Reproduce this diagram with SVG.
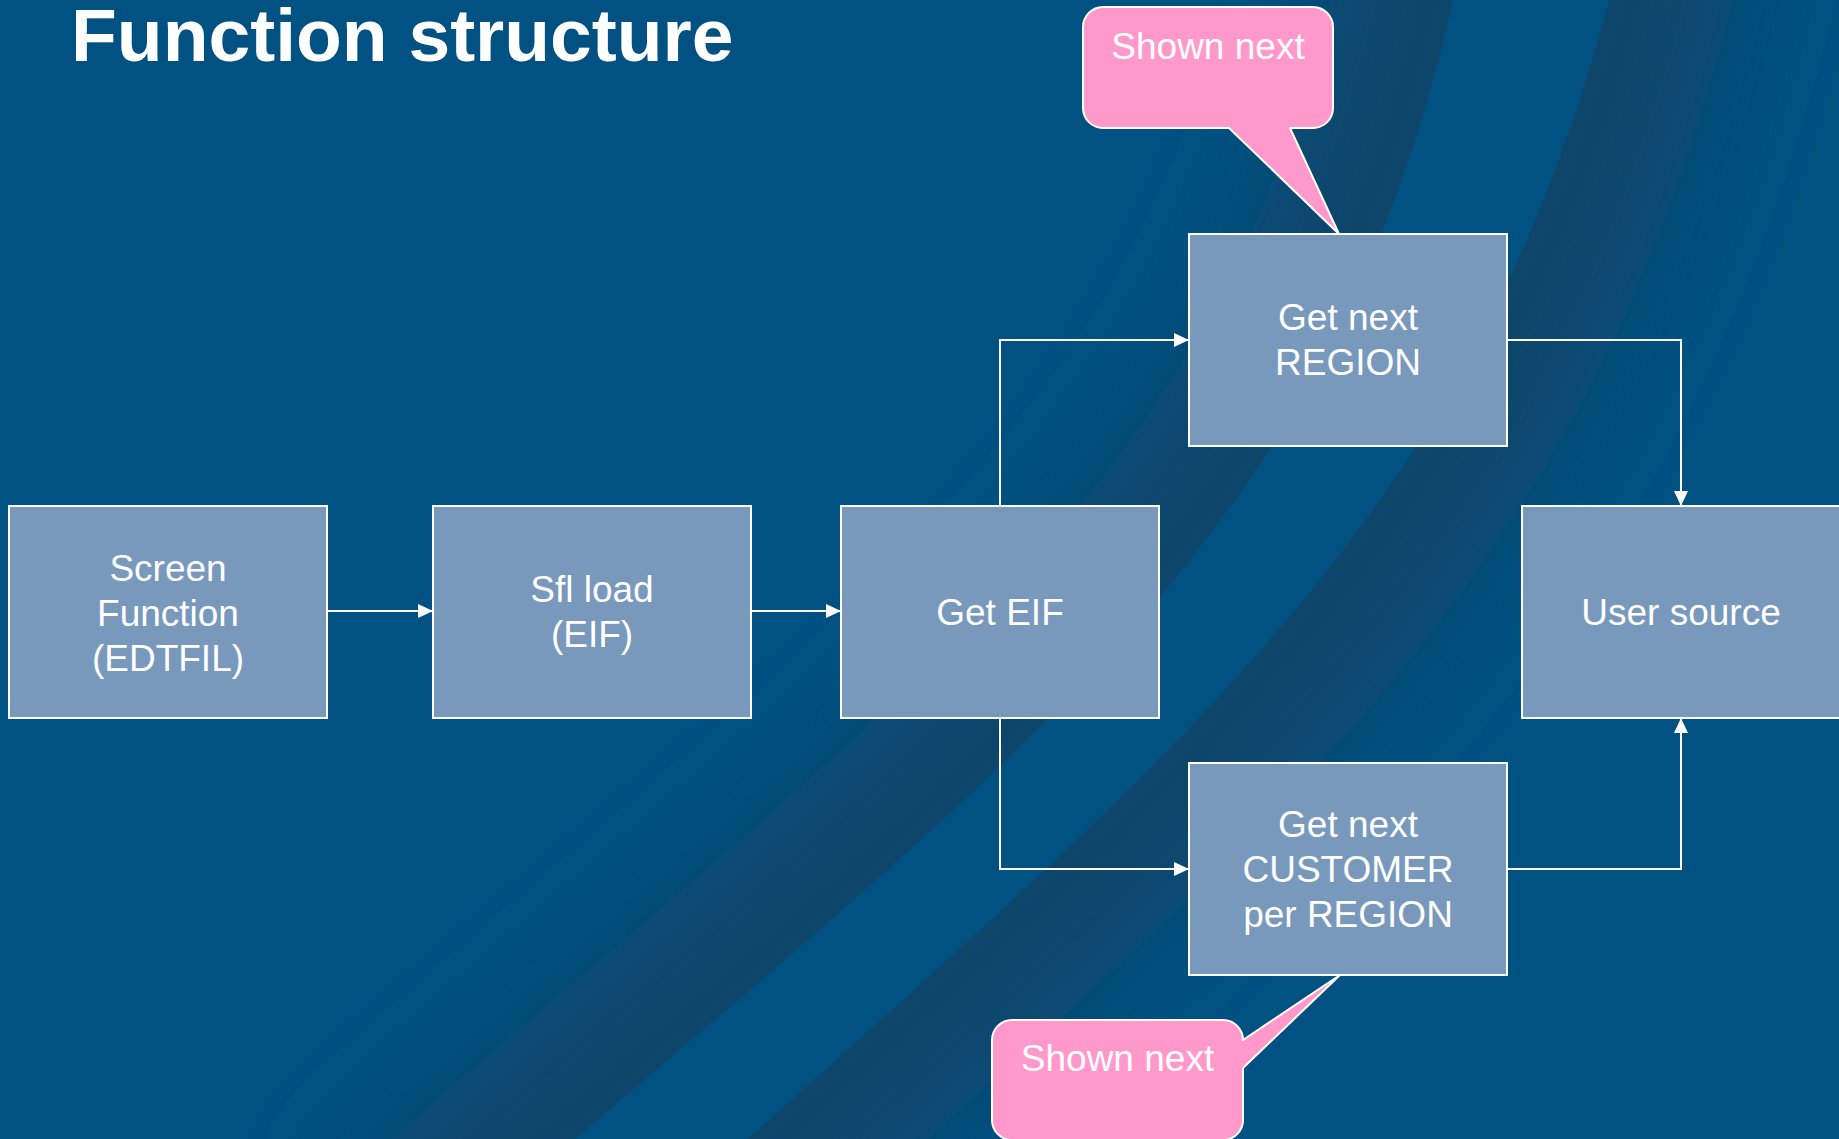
<svg xmlns="http://www.w3.org/2000/svg" width="1839" height="1139" viewBox="0 0 1839 1139">
  <style>
    .node rect { fill: #7899BC; stroke: #FFFFFF; stroke-width: 2; }
    .txt { font-family: "Liberation Sans", Arial, sans-serif; font-size: 37px; fill: #FFFFFF; text-anchor: middle; }
    .title { font-family: "Liberation Sans", Arial, sans-serif; font-size: 75px; font-weight: bold; fill: #FFFFFF; }
    .conn { fill: none; stroke: #FFFFFF; stroke-width: 2; marker-end: url(#arrow); }
    .callout path { fill: #FF99CC; stroke: #FFFFFF; stroke-width: 2; stroke-linejoin: round; }
    .band { fill: none; stroke: #114469; stroke-width: 240; }
  </style>
  <defs>
    <marker id="arrow" markerUnits="userSpaceOnUse" markerWidth="15" markerHeight="14" refX="15" refY="7" orient="auto">
      <path d="M0 0 L15 7 L0 14 Z" fill="#FFFFFF"/>
    </marker>
    <filter id="soft" filterUnits="userSpaceOnUse" x="-300" y="-300" width="2500" height="1800">
      <feGaussianBlur stdDeviation="60"/>
    </filter>
    <clipPath id="leftOfA">
      <path d="M400 1290 L575 1139 C1050 734 1340 510 1453 0 L1483 -135 L-200 -200 L-200 1300 Z"/>
    </clipPath>
    <clipPath id="rightOfB">
      <path d="M580 1290 L748 1139 C1198 735 1475 506 1609 0 L1645 -135 L2100 -200 L2100 1300 Z"/>
    </clipPath>
  </defs>

  <!-- background with two curved shaded sweeps -->
  <rect x="0" y="0" width="1839" height="1139" fill="#015283"/>
  <g clip-path="url(#leftOfA)">
    <path class="band" filter="url(#soft)" d="M400 1290 L575 1139 C1050 734 1340 510 1453 0 L1483 -135"/>
  </g>
  <g clip-path="url(#rightOfB)">
    <path class="band" filter="url(#soft)" d="M580 1290 L748 1139 C1198 735 1475 506 1609 0 L1645 -135"/>
  </g>

  <text class="title" x="71" y="61">Function structure</text>

  <!-- connectors -->
  <g id="connectors">
    <path class="conn" d="M327 611 H433"/>
    <path class="conn" d="M751 611 H841"/>
    <path class="conn" d="M1000 506 V340 H1189"/>
    <path class="conn" d="M1507 340 H1681 V506"/>
    <path class="conn" d="M1000 718 V869 H1189"/>
    <path class="conn" d="M1507 869 H1681 V718"/>
  </g>

  <!-- nodes -->
  <g id="screen-function" class="node">
    <rect x="9" y="506" width="318" height="212"/>
    <text class="txt" x="168" y="581">Screen</text>
    <text class="txt" x="168" y="626">Function</text>
    <text class="txt" x="168" y="671">(EDTFIL)</text>
  </g>
  <g id="sfl-load" class="node">
    <rect x="433" y="506" width="318" height="212"/>
    <text class="txt" x="592" y="602">Sfl load</text>
    <text class="txt" x="592" y="647">(EIF)</text>
  </g>
  <g id="get-eif" class="node">
    <rect x="841" y="506" width="318" height="212"/>
    <text class="txt" x="1000" y="625">Get EIF</text>
  </g>
  <g id="get-next-region" class="node">
    <rect x="1189" y="234" width="318" height="212"/>
    <text class="txt" x="1348" y="330">Get next</text>
    <text class="txt" x="1348" y="375">REGION</text>
  </g>
  <g id="get-next-customer" class="node">
    <rect x="1189" y="763" width="318" height="212"/>
    <text class="txt" x="1348" y="837">Get next</text>
    <text class="txt" x="1348" y="882">CUSTOMER</text>
    <text class="txt" x="1348" y="927">per REGION</text>
  </g>
  <g id="user-source" class="node">
    <rect x="1522" y="506" width="318" height="212"/>
    <text class="txt" x="1681" y="625">User source</text>
  </g>

  <!-- callouts -->
  <g id="callout-region" class="callout">
    <path d="M1103 7 H1313 A20 20 0 0 1 1333 27 V108 A20 20 0 0 1 1313 128 H1290 L1339 234 L1229 128 H1103 A20 20 0 0 1 1083 108 V27 A20 20 0 0 1 1103 7 Z"/>
    <text class="txt" x="1208" y="59">Shown next</text>
  </g>
  <g id="callout-customer" class="callout">
    <path d="M1012 1020 H1223 A20 20 0 0 1 1243 1040 L1340 975 L1243 1068 V1120 A20 20 0 0 1 1223 1140 H1012 A20 20 0 0 1 992 1120 V1040 A20 20 0 0 1 1012 1020 Z"/>
    <text class="txt" x="1117.5" y="1071">Shown next</text>
  </g>
</svg>
